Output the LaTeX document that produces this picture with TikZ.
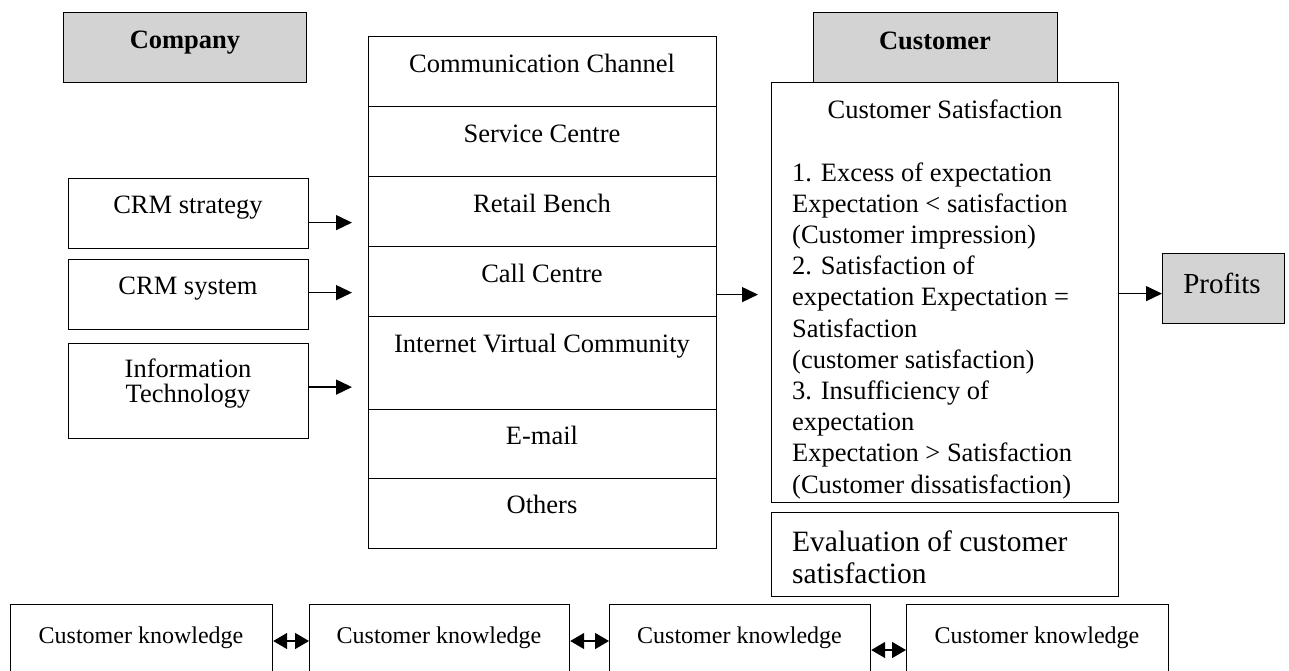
\documentclass[tikz,border=0pt]{standalone}
\usepackage{fontspec}
\setmainfont{Liberation Serif}
\usetikzlibrary{arrows.meta}
\definecolor{boxgray}{HTML}{D3D3D3}
\begin{document}
\begin{tikzpicture}[x=1pt,y=-1pt,
  box/.style={draw,line width=1.2pt,rectangle,inner sep=0pt,anchor=north west},
  graybox/.style={box,fill=boxgray},
  lbl/.style={anchor=base,inner sep=0pt,font=\fontsize{26.5}{23}\selectfont},
  lbll/.style={anchor=base west,inner sep=0pt,font=\fontsize{26.5}{23}\selectfont},
  bold/.style={anchor=base,inner sep=0pt,font=\bfseries\fontsize{26.5}{23}\selectfont},
  big/.style={anchor=base west,inner sep=0pt,font=\fontsize{29.5}{23}\selectfont},
  small/.style={anchor=base,inner sep=0pt,font=\fontsize{24}{23}\selectfont},
  arr/.style={line width=1.3pt,-{Triangle[length=16pt,width=15pt]}},
  darr/.style={line width=1.4pt,{Triangle[length=14pt,width=16pt]}-{Triangle[length=14pt,width=16pt]}}]
\useasboundingbox (0,0) rectangle (1289,670);
\clip (0,0) rectangle (1289,670);
\fill[white] (0,0) rectangle (1289,670);

% header boxes
\node[graybox,minimum width=243pt,minimum height=70pt] (company) at (63,12) {};
\node[bold] (companyt) at (185,48) {Company};
\node[graybox,minimum width=244pt,minimum height=70pt] (customer) at (813,12) {};
\node[bold] (customert) at (935,49) {Customer};

% central column
\node[box,minimum width=348pt,minimum height=70pt] (cc1) at (368,36) {};
\node[box,minimum width=348pt,minimum height=70pt] (cc2) at (368,106) {};
\node[box,minimum width=348pt,minimum height=70pt] (cc3) at (368,176) {};
\node[box,minimum width=348pt,minimum height=70pt] (cc4) at (368,246) {};
\node[box,minimum width=348pt,minimum height=93pt] (cc5) at (368,316) {};
\node[box,minimum width=348pt,minimum height=69pt] (cc6) at (368,409) {};
\node[box,minimum width=348pt,minimum height=70pt] (cc7) at (368,478) {};
\node[lbl] (cc1t) at (542,72) {Communication Channel};
\node[lbl] (cc2t) at (542,142) {Service Centre};
\node[lbl] (cc3t) at (542,212) {Retail Bench};
\node[lbl] (cc4t) at (542,282) {Call Centre};
\node[lbl] (cc5t) at (542,352) {Internet Virtual Community};
\node[lbl] (cc6t) at (542,444) {E-mail};
\node[lbl] (cc7t) at (542,513) {Others};

% left boxes
\node[box,minimum width=240pt,minimum height=70pt] (s1) at (68,178) {};
\node[box,minimum width=240pt,minimum height=70pt] (s2) at (68,259) {};
\node[box,minimum width=240pt,minimum height=95pt] (s3) at (68,343) {};
\node[lbl] (s1t) at (188,213) {CRM strategy};
\node[lbl] (s2t) at (188,294) {CRM system};
\node[lbl] (s3t) at (188,377) {Information};
\node[lbl] (s3u) at (188,402) {Technology};

\coordinate (p1) at ([yshift=-9pt]s1.east);
\coordinate (p2) at ([yshift=2pt]s2.east);
\coordinate (p3) at ([yshift=4pt]s3.east);
\draw[arr,shorten >=16pt] (p1) -- (p1 -| cc3.west);
\draw[arr,shorten >=16pt] (p2) -- (p2 -| cc4.west);
\draw[arr,shorten >=16pt] (p3) -- (p3 -| cc5.west);

% customer satisfaction
\node[box,minimum width=347pt,minimum height=420pt] (cs) at (771,82) {};
\node[lbl] (cst) at (945,118) {Customer Satisfaction};
\foreach \j/\s in {0/{1. Excess of expectation},
                   1/{Expectation < satisfaction},
                   2/{(Customer impression)},
                   3/{2. Satisfaction of},
                   4/{expectation Expectation =},
                   5/{Satisfaction},
                   6/{(customer satisfaction)},
                   7/{3. Insufficiency of},
                   8/{expectation},
                   9/{Expectation > Satisfaction},
                   10/{(Customer dissatisfaction)}}
  \node[lbll] (csl\j) at (792,181+31.2*\j) {\s};

\node[box,minimum width=347pt,minimum height=84pt] (ev) at (771,512) {};
\node[big] (evt1) at (792,551) {Evaluation of customer};
\node[big] (evt2) at (792,583) {satisfaction};

\coordinate (q1) at ([yshift=-13pt]cc4.east);
\draw[arr,shorten >=13pt] (q1) -- (q1 -| cs.west);

% profits
\node[graybox,minimum width=122pt,minimum height=70pt] (pf) at (1162,253) {};
\node[anchor=base,inner sep=0pt,font=\fontsize{29}{23}\selectfont] (pft) at (1222,293) {Profits};
\coordinate (q2) at ([yshift=-1pt]cs.east);
\draw[arr] (q2) -- (q2 -| pf.west);

% bottom row
\node[box,minimum width=262pt,minimum height=90pt] (k1) at (10,604) {};
\node[box,minimum width=260pt,minimum height=90pt] (k2) at (309,604) {};
\node[box,minimum width=261pt,minimum height=90pt] (k3) at (609,604) {};
\node[box,minimum width=262pt,minimum height=90pt] (k4) at (906,604) {};
\node[small] (k1t) at (141,643.5) {Customer knowledge};
\node[small] (k2t) at (439,643.5) {Customer knowledge};
\node[small] (k3t) at (739.5,643.5) {Customer knowledge};
\node[small] (k4t) at (1037,643.5) {Customer knowledge};
\coordinate (d1) at ([yshift=-37pt]k1.north east);
\coordinate (d2) at ([yshift=-37pt]k2.north east);
\coordinate (d3) at ([yshift=-46pt]k3.north east);
\draw[darr] (d1) -- (d1 -| k2.west);
\draw[darr] (d2) -- (d2 -| k3.west);
\draw[darr] (d3) -- (d3 -| k4.west);
\end{tikzpicture}
\end{document}
